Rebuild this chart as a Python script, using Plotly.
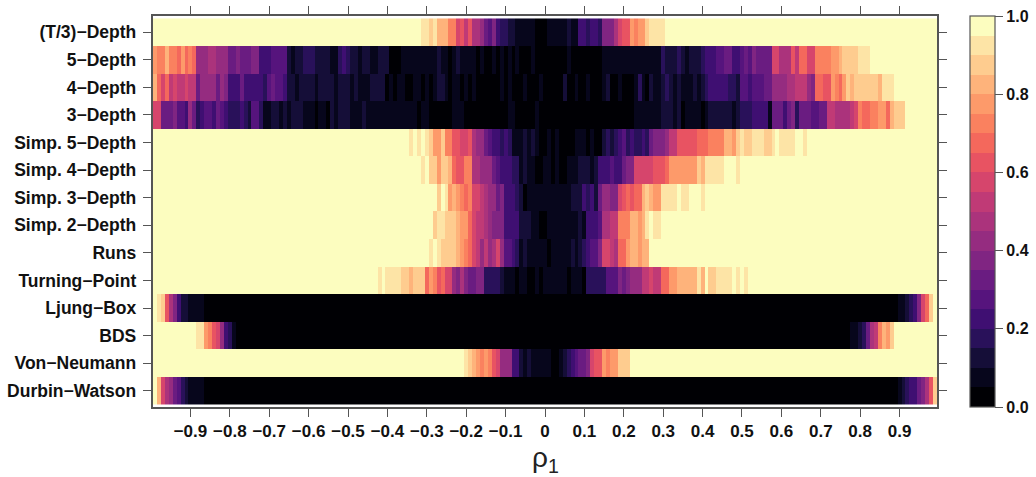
import plotly.graph_objects as go

RHO = [round(-0.99 + 0.01 * i, 2) for i in range(199)]
TESTS = ["(T/3)−Depth", "5−Depth", "4−Depth", "3−Depth", "Simp. 5−Depth", "Simp. 4−Depth", "Simp. 3−Depth",
         "Simp. 2−Depth", "Runs", "Turning−Point", "Ljung−Box", "BDS", "Von−Neumann", "Durbin−Watson"]
X_TICKS = [-0.9, -0.8, -0.7, -0.6, -0.5, -0.4, -0.3, -0.2, -0.1, 0, 0.1, 0.2, 0.3, 0.4, 0.5, 0.6, 0.7, 0.8, 0.9]
X_LABELS = ["−0.9", "−0.8", "−0.7", "−0.6", "−0.5", "−0.4", "−0.3", "−0.2", "−0.1", "0", "0.1", "0.2", "0.3", "0.4", "0.5", "0.6", "0.7", "0.8", "0.9"]
CB_TICKS = [0, 0.2, 0.4, 0.6, 0.8, 1.0]
CB_LABELS = ["0.0", "0.2", "0.4", "0.6", "0.8", "1.0"]
MAGMA = ["#000004", "#07061C", "#150E38", "#29115A", "#3F0F72", "#56147D", "#6A1C81", "#802582", "#952C80", "#AB337C",
         "#C03A76", "#D6456C", "#E85362", "#F4685C", "#FA815F", "#FD9A6A", "#FEB37B", "#FECC8F", "#FDE4A6", "#FCFDBF"]

# Values are colour-band numbers (0 to 19) read column by column; band k spans k/20 to (k+1)/20.
T3_DEPTH = [19]*68 + [18,18,17,18,16,16,16,14,14,11,12,10,12,9,9,8,6,5,7,4,3,3,2,2,1,1,1,1,1,0,0,0,1,1,1,1,1,2,1,1,4,4,3,4,4,3,7,7,7,9,11,12,12,15,14,15,15,17,18,18,18,18] + [19]*69
DEPTH_5 = [15,14,14,16,14,14,13,15,13,14,13,8,8,8,9,9,8,8,8,6,6,7,6,6,6,7,7,4,4,4,5,5,5,5,2,1,2,2,3,3,3,2,2,2,2,1,1,3,4,3,2,2,1,2,2,1,1,2,2,2,0,0,0,1,1,1,1,1,1,1,1,1,2,1,1,0,1,2,1,1,1,1,0,1,0,0,1,0,1,0,1,0,1,0,0,0,1,0,0,0,0,0,0,0,0,1,0,0,0,0,0,0,0,0] + [1]*15 + [3,2,2,2,3,2,1,2,2,2,3,4,4,4,5,5,6,6,4,4,5,6,5,7,6,6,6,6,11,11,9,9,9,12,10,13,13,11,11,14,14,14,14,15,15,16,17,17,17,17,18,18,18] + [19]*17
DEPTH_4 = [16,13,11,13,10,11,10,10,11,10,10,6,8,8,8,8,6,8,7,4,4,4,6,4,4,4,4,4,3,5,6,5,5,4,2,2,1,2,2,2,2,1,2,2,2,2,1,2,2,2,1,2,1,1,1,2,2,2,2,0,1,0,1,1,0,0,1,1,0,1,0,1,2,2,1,0,1,1,0,1,0,1,0,0,0,0,0,0,1,0,1,0,0,0,1,0,0,0,1,0,0,0,0,0,2,0,0,1,0,0,1,0,0,0,1,2,0,0,1,0,0,0,1,3,1,0,2,1,1,2,3,2,1,2,1,1,1,2,1,2,3,4,4,4,4,4,3,3,2,5,5,4,5,5,5,6,6,8,8,8,8,9,9,10,10,10,8,7,13,13,12,12,15,14,13,15,17,16,17,17,17,17,17,17,16,18,18,18] + [19]*11
DEPTH_3 = [11,11,6,6,6,7,5,5,4,8,6,3,4,5,5,4,6,5,4,3,3,3,4,3,2,5,5,3,1,1,2,2,1,2,1,2,2,2,1,1,1,0,1,1,0,2,1,2,2,2,1,1,1,2,1,1,1,1,1,1,1,1,1,1,1,1,1,0,1,1,0,0,0,0,0,0,1,1,1,0] + [0]*10 + [1,1,0,0,0,0,0,1] + [0]*24 + [1]*7 + [2,2,2,1,2,0,1,1,1,1,0,1,2,2,2,2,2,2,1,2,3,3,3,4,4,4,4,1,6,6,6,4,6,7,3,6,6,6,5,5,6,6,10,10,9,9,9,9,10,11,14,13,13,14,14,15,15,13,16,17,17,17] + [19]*8
SIMP_5 = [19]*65 + [18,19,18,19,18,17,15,15,17,14,14,12,12,11,11,12,9,8,8,6,5,4,4,3,4,3,1,1,1,2,1,2,1,0,0,1,0,1,0,0,0,0,1,1,1,0,1,0,0,2,3,2,3,4,5,3,4,3,3,4,3,6,7,7,7,8,10,10,12,12,12,12,12,13,13,13,14,14,14,14,16,16,15,17,18,17,17,18,18,18,17,17,18,19,18,18,18,18,19,19,18] + [19]*33
SIMP_4 = [19]*68 + [18,19,17,17,15,17,17,16,13,12,12,14,14,9,9,8,8,8,6,5,4,4,4,3,3,1,2,1,1,0,0,1,1,0,1,0,0,1,1,1,2,2,2,1,2,4,4,4,5,4,4,6,7,7,11,11,11,11,11,12,12,12,13,15,15,15,15,15,15,15,17,16,18,18,18,18,18,19,19,19,18] + [19]*50
SIMP_3 = [19]*72 + [17,19,18,15,16,15,14,13,14,11,11,10,9,8,8,6,7,4,4,4,3,2,0,1,1,1,1,1,1,1,1,1,1,1,2,2,2,4,3,4,2,6,8,8,7,7,11,12,13,12,13,13,16,17,16,15,15,18,18,18,18,19,18,18,19,19,19,18] + [19]*59
SIMP_2 = [19]*71 + [17,18,18,17,17,17,16,15,15,13,11,10,10,9,8,7,7,7,4,4,4,4,2,2,2,1,1,0,0,1,1,1,1,1,1,1,1,2,1,4,4,4,5,9,9,10,10,14,14,14,16,16,15,16,18,19,18,18] + [19]*70
RUNS = [19]*70 + [18,19,18,17,17,17,17,16,15,14,13,11,10,8,10,8,9,11,8,5,5,4,3,1,2,1,1,1,1,1,0,1,1,1,1,1,2,1,2,3,4,5,5,7,11,11,10,9,13,13,15,16,16,15,16,16] + [19]*73
TURNING_POINT = [19]*57 + [18,19,18,18,18,18,17,17,16,17,17,17,13,15,14,12,13,11,11,8,7,9,7,6,6,7,7,3,3,3,3,2,1,1,1,0,1,1,0,0,1,0,1,1,1,1,1,1,0,1,1,1,0,3,3,3,3,3,5,5,5,7,6,7,8,8,8,10,10,11,10,10,13,13,15,15,16,16,16,16,16,18,16,19,17,17,18,18,18,18,19,18,19,18] + [19]*48
LJUNG_BOX = [19,18,17,12,9,7,4,2,2,1,1,1,1] + [0]*176 + [1,1,2,3,4,7,11,13,17,19]
BDS = [19]*11 + [18,18,15,14,12,11,8,4,3,1] + [0]*156 + [1,1,2,3,6,9,10,14,16,15,17] + [19]*11
VON_NEUMANN = [19]*79 + [18,17,16,15,14,15,14,12,11,8,8,8,4,4,2,1,2,1,1,1,1,1,0,0,1,2,3,4,5,6,6,7,11,12,12,15,14,15,15,17,17,17] + [19]*78
DURBIN_WATSON = [19,16,11,9,8,6,5,3,2,1,1,1,1] + [0]*176 + [1,2,3,4,4,6,7,9,12,17]

ROWS = [T3_DEPTH, DEPTH_5, DEPTH_4, DEPTH_3, SIMP_5, SIMP_4, SIMP_3, SIMP_2, RUNS, TURNING_POINT,
        LJUNG_BOX, BDS, VON_NEUMANN, DURBIN_WATSON]
lengths = [len(r) for r in ROWS]
assert all(n == len(RHO) for n in lengths), lengths

z = [[(b + 0.5) / 20 for b in row] for row in ROWS]
scale = []
for k, c in enumerate(MAGMA):
    scale += [[k / 20, c], [(k + 1) / 20, c]]

FONT = "Liberation Sans, Arial, sans-serif"
LINE = "#555555"
PAD = 0.09

fig = go.Figure(go.Heatmap(
    x=RHO, y=list(range(len(TESTS))), z=z, zmin=0, zmax=1, colorscale=scale, zsmooth=False,
    colorbar=dict(
        x=1.042, xanchor="left", xpad=0, ypad=0, y=0, yanchor="bottom", len=1, lenmode="fraction",
        thickness=25, thicknessmode="pixels", outlinecolor=LINE, outlinewidth=1.2,
        tickmode="array", tickvals=CB_TICKS, ticktext=[f"<b>{v}</b>" for v in CB_LABELS],
        ticks="outside", ticklen=8, tickcolor=LINE, tickwidth=1.2,
        tickfont=dict(family=FONT, size=16, color="#111111"),
    ),
))
fig.update_layout(
    template=None,
    width=1036, height=477, autosize=False,
    margin=dict(l=153, r=99, t=16, b=70, autoexpand=False),
    plot_bgcolor="white", paper_bgcolor="white",
    font=dict(family=FONT, color="#111111"),
    xaxis=dict(
        automargin=False,
        range=[-0.995, 0.995], tickmode="array", tickvals=X_TICKS, ticktext=[f"<b>{t}</b>" for t in X_LABELS],
        ticks="outside", ticklen=8, tickcolor=LINE, tickwidth=1.2, showline=True, linecolor=LINE, linewidth=1.5,
        mirror="ticks", showgrid=False, zeroline=False, tickfont=dict(family=FONT, size=17, color="#111111"),
        tickangle=0,
    ),
    yaxis=dict(
        automargin=False,
        range=[13.5 + PAD, -0.5 - PAD], tickmode="array", tickvals=list(range(len(TESTS))),
        ticktext=[f"<b>{t}</b>&#8201;" for t in TESTS], ticks="outside", ticklen=8, tickcolor=LINE, tickwidth=1.2,
        showline=True, linecolor=LINE, linewidth=1.5, mirror="ticks", showgrid=False, zeroline=False,
        tickfont=dict(family=FONT, size=17.5, color="#111111"),
    ),
    annotations=[dict(
        text="ρ<sub>1</sub>", x=0, xref="x", y=0, yref="paper", yanchor="top", yshift=-33, showarrow=False,
        font=dict(family=FONT, size=28, color="#222222"),
    )],
)
fig.write_html("out.html", post_script="document.body.style.margin='0';", config={"displayModeBar": False})
